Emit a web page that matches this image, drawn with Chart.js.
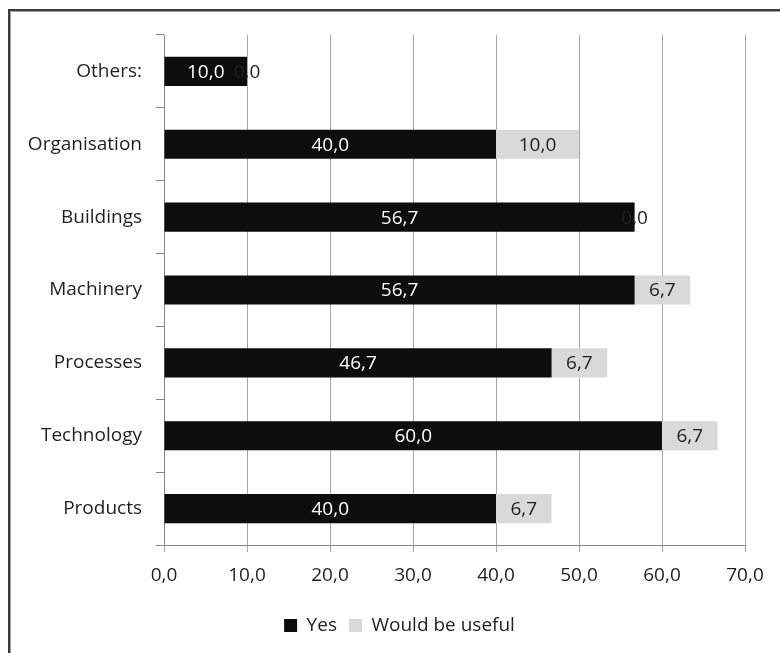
<!DOCTYPE html>
<html>
<head>
<meta charset="utf-8">
<script src="https://cdn.jsdelivr.net/npm/chart.js@4"></script>
<style>
    html, body { margin: 0; padding: 0; background: #fff; overflow: hidden; }
    #wrap { position: relative; width: 780px; height: 653px; }
    #frame {
        position: absolute; left: 8px; top: 9px; width: 800px; height: 700px;
        border-top: 2px solid #3a3a3a; border-left: 2px solid #3a3a3a;
        box-shadow: inset 1px 1px 0 #a0a0a0; pointer-events: none;
    }
</style>
</head>
<body>
<div id="wrap">
    <canvas id="chart" width="780" height="653"></canvas>
    <div id="frame"></div>
</div>
<script>
const categories = ["Others:", "Organisation", "Buildings", "Machinery", "Processes", "Technology", "Products"];
const yesValues = [10.0, 40.0, 56.7, 56.7, 46.7, 60.0, 40.0];
const usefulValues = [0.0, 10.0, 0.0, 6.7, 6.7, 6.7, 6.7];
const seriesNames = ["Yes", "Would be useful"];
const xTicks = [0, 10, 20, 30, 40, 50, 60, 70];

const FONT = '"Open Sans", sans-serif';
const FONT_SIZE = 19;
const TEXT = "#1f1f1f";
const labelColours = ["#ffffff", TEXT];

const fmt = (v) => Number(v).toFixed(1).replace(".", ",");

// value text centred in each bar segment
const barValueLabels = {
    id: "barValueLabels",
    afterDatasetsDraw(chart) {
        const ctx = chart.ctx;
        ctx.save();
        ctx.font = FONT_SIZE + "px " + FONT;
        ctx.textAlign = "center";
        ctx.textBaseline = "middle";
        chart.data.datasets.forEach((ds, i) => {
            chart.getDatasetMeta(i).data.forEach((bar, j) => {
                ctx.fillStyle = labelColours[i];
                ctx.fillText(fmt(ds.data[j]), (bar.x + bar.base) / 2, bar.y + 1);
            });
        });
        ctx.restore();
    },
};

// nudge the legend a little to the right
const legendShift = {
    id: "legendShift",
    afterLayout(chart) {
        chart.legend.left += 27;
        chart.legend.right += 27;
    },
};

const ctx1 = document.getElementById("chart");

new Chart(ctx1, {
    type: "bar",
    data: {
        labels: categories,
        datasets: [
            {
                label: seriesNames[0],
                data: yesValues,
                backgroundColor: "#0d0d0d",
                borderWidth: 0,
            },
            {
                label: seriesNames[1],
                data: usefulValues,
                backgroundColor: "#d9d9d9",
                borderWidth: 0,
            },
        ],
    },
    options: {
        indexAxis: "y",
        responsive: false,
        animation: false,
        categoryPercentage: 0.4,
        barPercentage: 1,
        layout: {
            padding: { top: 35, right: 35, left: 0, bottom: 8 },
        },
        plugins: {
            legend: {
                position: "bottom",
                labels: {
                    boxWidth: 13,
                    boxHeight: 13,
                    padding: 12,
                    color: TEXT,
                    font: { size: FONT_SIZE, family: FONT },
                },
            },
            tooltip: { enabled: false },
        },
        scales: {
            x: {
                stacked: true,
                min: 0,
                max: 70,
                afterBuildTicks(scale) {
                    scale.ticks = xTicks.map((v) => ({ value: v }));
                },
                afterFit(scale) {
                    scale.height = 59;
                },
                grid: {
                    color: "#a6a6a6",
                    tickLength: 7,
                    lineWidth: 1,
                },
                border: { color: "#868686" },
                ticks: {
                    padding: 12,
                    color: TEXT,
                    callback: (v) => fmt(v),
                    font: { size: FONT_SIZE, family: FONT },
                },
            },
            y: {
                stacked: true,
                afterFit(scale) {
                    scale.width = 164;
                },
                grid: {
                    offset: true,
                    drawOnChartArea: false,
                    color: "#868686",
                    tickLength: 8,
                },
                border: { color: "#868686" },
                ticks: {
                    padding: 14,
                    color: TEXT,
                    font: { size: FONT_SIZE, family: FONT },
                },
            },
        },
    },
    plugins: [barValueLabels, legendShift],
});
</script>
</body>
</html>
